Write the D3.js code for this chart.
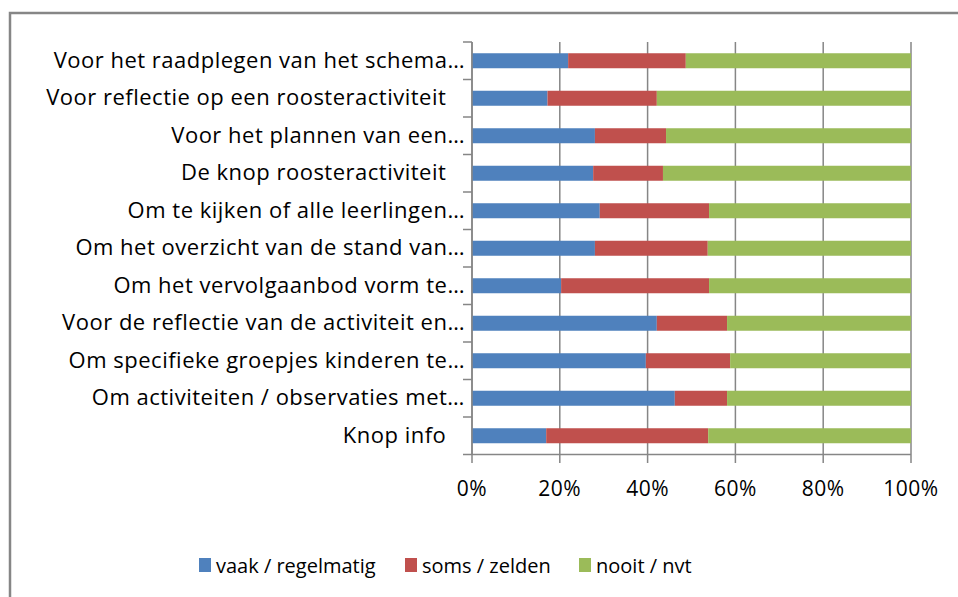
<!DOCTYPE html>
<html>
<head>
<meta charset="utf-8">
<script src="https://cdn.jsdelivr.net/npm/d3@7"></script>
<style>
  body { margin: 0; background: #fff; }
  text { font-family: "Open Sans", sans-serif; fill: #000; white-space: pre; }
</style>
</head>
<body>
<div id="chart"></div>
<script>
const categories = [
    "Voor het raadplegen van het schema…",
    "Voor reflectie op een roosteractiviteit   ",
    "Voor het plannen van een…",
    "De knop roosteractiviteit   ",
    "Om te kijken of alle leerlingen…",
    "Om het overzicht van de stand van…",
    "Om het vervolgaanbod vorm te…",
    "Voor de reflectie van de activiteit en…",
    "Om specifieke groepjes kinderen te…",
    "Om activiteiten / observaties met…",
    "Knop info   "
];
const seriesNames = ["vaak / regelmatig", "soms / zelden", "nooit / nvt"];
const vaak = [0.219, 0.172, 0.280, 0.276, 0.291, 0.280, 0.203, 0.421, 0.396, 0.462, 0.169];
const soms = [0.268, 0.249, 0.162, 0.159, 0.249, 0.257, 0.337, 0.160, 0.192, 0.119, 0.369];
const nooit = [0.513, 0.579, 0.558, 0.565, 0.460, 0.463, 0.460, 0.419, 0.412, 0.419, 0.462];
const xTicks = [0, 0.2, 0.4, 0.6, 0.8, 1];
const colors = ["#4F81BD", "#C0504D", "#9BBB59"];

const width = 958, height = 597;
const svg = d3.select("#chart").append("svg")
    .attr("width", width)
    .attr("height", height);

// chart frame
svg.append("rect")
    .attr("x", 10).attr("y", 13)
    .attr("width", 1000).attr("height", 1000)
    .attr("fill", "none")
    .attr("stroke", "#868686")
    .attr("stroke-width", 2.5);

const x = d3.scaleLinear().domain([0, 1]).range([472, 911]);
const y = d3.scaleBand().domain(categories).range([42, 454.5])
    .paddingInner(0.6).paddingOuter(0.3);

const rows = categories.map((c, i) => ({ cat: c, vals: [vaak[i], soms[i], nooit[i]] }));
const stack = d3.stack().keys([0, 1, 2]).value((d, k) => d.vals[k]);
const layers = stack(rows);

// gridlines
svg.append("g")
    .selectAll("line")
    .data(xTicks)
    .join("line")
    .attr("x1", d => x(d)).attr("x2", d => x(d))
    .attr("y1", 42).attr("y2", 463)
    .attr("stroke", "#868686")
    .attr("stroke-width", 1.5);

// bars
svg.append("g")
    .selectAll("g")
    .data(layers)
    .join("g")
    .attr("fill", (d, i) => colors[i])
    .selectAll("rect")
    .data(d => d)
    .join("rect")
    .attr("x", d => x(d[0]))
    .attr("width", d => x(d[1]) - x(d[0]))
    .attr("y", d => y(d.data.cat))
    .attr("height", y.bandwidth());

// axes lines
svg.append("line")
    .attr("x1", x(0)).attr("x2", x(1))
    .attr("y1", 454.5).attr("y2", 454.5)
    .attr("stroke", "#868686").attr("stroke-width", 1.5);
svg.append("line")
    .attr("x1", x(0)).attr("x2", x(0))
    .attr("y1", 42).attr("y2", 454.5)
    .attr("stroke", "#868686").attr("stroke-width", 1.5);

// category separators on the left axis
svg.append("g")
    .selectAll("line")
    .data(d3.range(categories.length + 1))
    .join("line")
    .attr("x1", x(0) - 9).attr("x2", x(0))
    .attr("y1", i => y.range()[0] + i * y.step())
    .attr("y2", i => y.range()[0] + i * y.step())
    .attr("stroke", "#868686").attr("stroke-width", 1.5);

// category labels
svg.append("g")
    .selectAll("text")
    .data(categories)
    .join("text")
    .attr("x", 465)
    .attr("y", d => y(d) + y.bandwidth() / 2 + 7)
    .attr("text-anchor", "end")
    .attr("font-size", 22)
    .attr("letter-spacing", 0.5)
    .text(d => d);

// x tick labels
svg.append("g")
    .selectAll("text")
    .data(xTicks)
    .join("text")
    .attr("x", d => x(d))
    .attr("y", 496)
    .attr("text-anchor", "middle")
    .attr("font-size", 21)
    .attr("letter-spacing", 0.5)
    .text(d3.format(".0%"));

// legend
const legendX = [199, 405, 579];
const legend = svg.append("g")
    .selectAll("g")
    .data(seriesNames)
    .join("g")
    .attr("transform", (d, i) => `translate(${legendX[i]},558)`);
legend.append("rect")
    .attr("width", 12).attr("height", 14)
    .attr("fill", (d, i) => colors[i]);
legend.append("text")
    .attr("x", 17).attr("y", 15)
    .attr("font-size", 20)
    .text(d => d);
</script>
</body>
</html>
